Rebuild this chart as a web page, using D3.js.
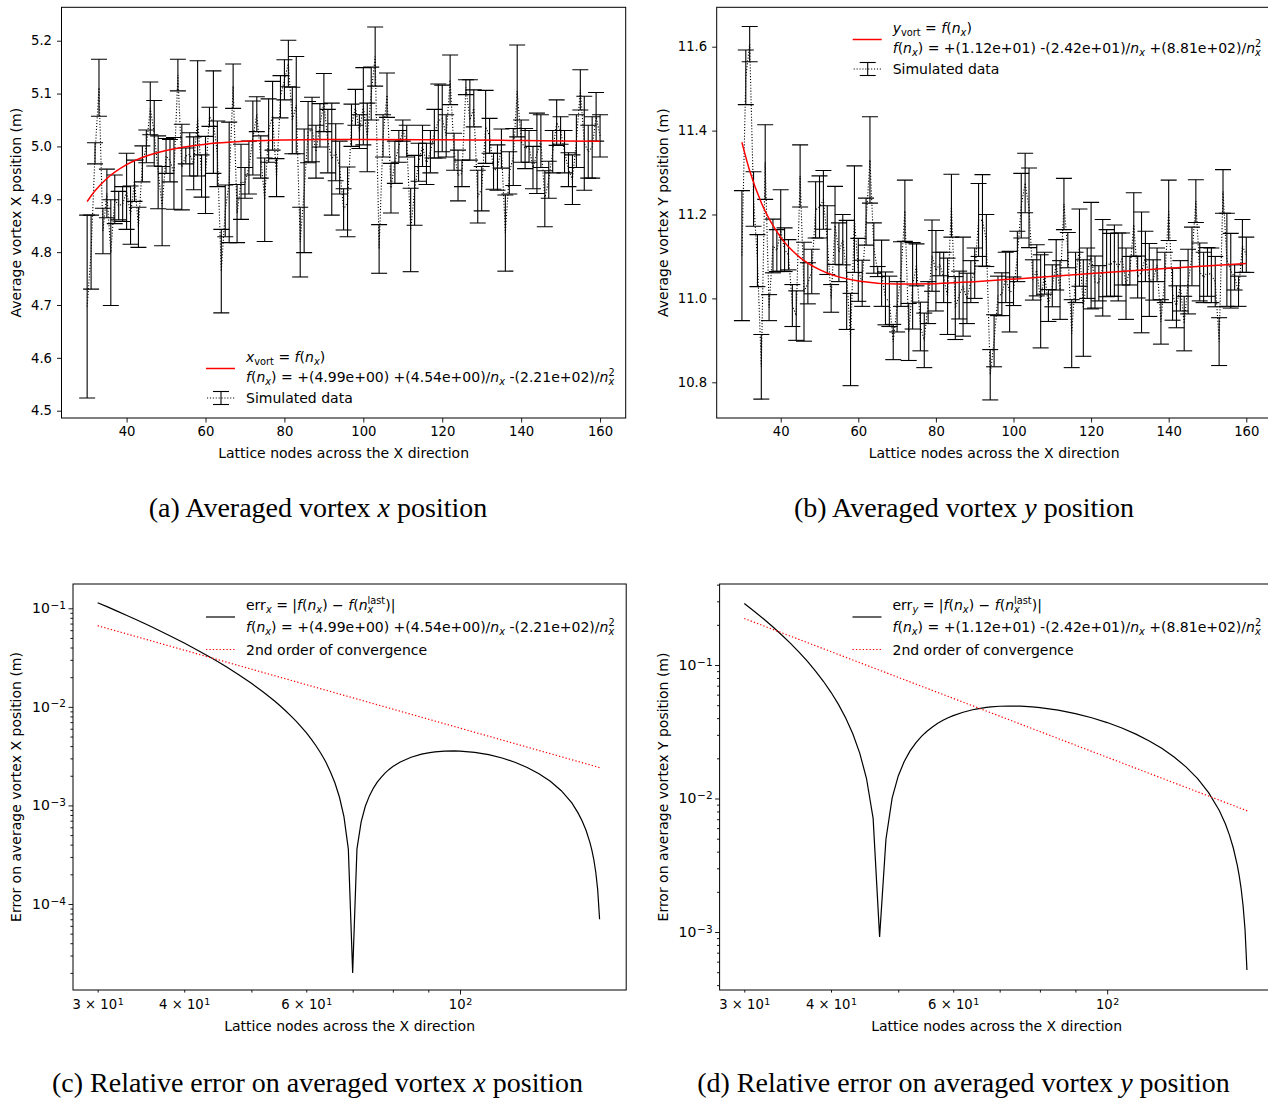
<!DOCTYPE html>
<html>
<head>
<meta charset="utf-8">
<script src="https://cdn.jsdelivr.net/npm/d3@7"></script>
<style>
body { margin: 0; background: #fff; }
svg { display: block; }
text { white-space: pre; }
</style>
</head>
<body>
<svg id="fig" width="1268" height="1098"></svg>
<script>
// lattice sizes (x categories of the top panels)
var latticeN = d3.range(30, 161);

// averaged vortex x position, centre and error half-width, n = 30..160
var xMean = [
  4.697, 4.800, 4.987, 5.111, 4.840, 4.911, 4.799, 4.900, 4.888, 4.891,
  4.915, 4.870, 4.935, 4.847, 4.967, 5.000, 5.072, 5.025, 4.951, 4.887,
  4.982, 4.973, 4.949, 5.135, 4.961, 4.982, 4.985, 4.968, 5.053, 4.944,
  4.946, 5.056, 5.046, 4.986, 4.764, 4.878, 4.932, 5.114, 4.873, 4.933,
  4.931, 4.960, 5.016, 5.061, 4.980, 4.899, 5.030, 5.058, 4.941, 5.094,
  5.126, 5.157, 5.049, 5.078, 4.819, 4.916, 5.027, 5.032, 4.990, 5.040,
  5.083, 5.010, 4.976, 4.989, 4.960, 4.881, 4.895, 5.040, 5.074, 5.028,
  5.076, 5.017, 5.100, 5.170, 4.806, 5.020, 5.097, 4.921, 4.970, 5.000,
  5.030, 5.010, 4.842, 4.917, 4.970, 5.001, 4.967, 4.990, 5.024, 5.048,
  5.053, 5.020, 5.126, 4.990, 4.945, 4.949, 5.112, 5.050, 5.072, 4.905,
  4.920, 5.037, 5.020, 4.953, 4.960, 4.996, 4.836, 4.950, 4.980, 5.105,
  5.010, 4.996, 5.000, 4.960, 4.987, 5.010, 4.901, 4.937, 4.990, 5.045,
  5.030, 4.990, 4.956, 4.937, 5.010, 5.107, 5.006, 4.990, 4.998, 5.056,
  5.020
];
var xErr = [
  0.173, 0.070, 0.020, 0.054, 0.043, 0.046, 0.100, 0.046, 0.027, 0.033,
  0.072, 0.055, 0.039, 0.038, 0.034, 0.031, 0.050, 0.062, 0.069, 0.075,
  0.033, 0.040, 0.068, 0.030, 0.081, 0.015, 0.041, 0.050, 0.109, 0.040,
  0.073, 0.018, 0.097, 0.062, 0.079, 0.049, 0.114, 0.042, 0.055, 0.071,
  0.029, 0.050, 0.070, 0.033, 0.040, 0.079, 0.060, 0.065, 0.036, 0.040,
  0.038, 0.044, 0.063, 0.092, 0.066, 0.117, 0.058, 0.061, 0.050, 0.041,
  0.055, 0.060, 0.106, 0.054, 0.050, 0.039, 0.066, 0.040, 0.034, 0.032,
  0.073, 0.065, 0.050, 0.056, 0.046, 0.040, 0.042, 0.047, 0.040, 0.030,
  0.020, 0.030, 0.079, 0.066, 0.036, 0.039, 0.039, 0.040, 0.046, 0.070,
  0.063, 0.040, 0.047, 0.035, 0.048, 0.025, 0.014, 0.076, 0.035, 0.050,
  0.042, 0.069, 0.033, 0.034, 0.043, 0.037, 0.072, 0.040, 0.054, 0.087,
  0.040, 0.038, 0.030, 0.040, 0.076, 0.050, 0.053, 0.035, 0.040, 0.043,
  0.026, 0.040, 0.032, 0.047, 0.050, 0.038, 0.089, 0.050, 0.058, 0.046,
  0.040
];

// averaged vortex y position
var yMean = [
  11.102, 11.527, 11.606, 11.237, 11.090, 10.837, 11.325, 10.978, 11.125, 11.114,
  11.162, 11.116, 11.104, 10.983, 10.959, 11.292, 11.016, 11.036, 11.064, 11.211,
  11.218, 11.235, 11.139, 11.000, 11.174, 11.110, 11.140, 11.056, 10.902, 11.189,
  11.068, 11.036, 11.183, 11.330, 11.120, 11.064, 11.060, 11.000, 10.993, 10.896,
  10.980, 11.058, 11.209, 10.920, 11.030, 11.080, 10.933, 10.900, 10.990, 11.102,
  11.066, 11.082, 11.050, 11.005, 11.221, 10.977, 11.008, 11.028, 11.000, 11.040,
  11.060, 11.187, 11.186, 11.138, 10.818, 10.899, 11.006, 11.010, 11.050, 11.016,
  11.017, 11.100, 11.221, 11.275, 11.216, 11.044, 11.067, 10.993, 11.060, 10.983,
  11.030, 11.080, 11.020, 11.225, 11.115, 10.916, 11.050, 11.121, 10.977, 11.060,
  11.102, 11.039, 11.036, 11.073, 11.084, 11.080, 11.090, 11.075, 11.094, 11.035,
  11.066, 11.176, 11.051, 11.062, 11.100, 11.044, 11.044, 11.080, 10.944, 11.050,
  11.210, 11.010, 10.980, 11.030, 10.940, 11.040, 11.100, 11.232, 11.063, 11.050,
  11.063, 11.055, 11.040, 10.897, 11.255, 11.092, 11.066, 11.050, 11.017, 11.125,
  11.104
];
var yErr = [
  0.155, 0.065, 0.042, 0.065, 0.062, 0.077, 0.089, 0.031, 0.064, 0.050,
  0.097, 0.052, 0.036, 0.050, 0.059, 0.074, 0.118, 0.049, 0.053, 0.067,
  0.074, 0.070, 0.082, 0.033, 0.093, 0.070, 0.060, 0.130, 0.110, 0.127,
  0.075, 0.055, 0.056, 0.103, 0.060, 0.012, 0.079, 0.063, 0.060, 0.042,
  0.060, 0.077, 0.073, 0.068, 0.103, 0.050, 0.058, 0.065, 0.050, 0.085,
  0.096, 0.028, 0.060, 0.091, 0.075, 0.075, 0.057, 0.118, 0.060, 0.050,
  0.060, 0.087, 0.109, 0.062, 0.060, 0.062, 0.047, 0.051, 0.060, 0.096,
  0.034, 0.060, 0.077, 0.071, 0.095, 0.048, 0.061, 0.111, 0.050, 0.038,
  0.050, 0.060, 0.070, 0.061, 0.042, 0.081, 0.060, 0.092, 0.115, 0.060,
  0.127, 0.062, 0.042, 0.115, 0.080, 0.075, 0.085, 0.081, 0.062, 0.085,
  0.034, 0.076, 0.050, 0.144, 0.060, 0.087, 0.048, 0.040, 0.053, 0.060,
  0.072, 0.062, 0.050, 0.060, 0.065, 0.077, 0.070, 0.051, 0.069, 0.060,
  0.058, 0.065, 0.060, 0.057, 0.052, 0.111, 0.089, 0.030, 0.036, 0.063,
  0.042
];

// fitted curves f(n_x), read at a few lattice sizes
var fitN = [30, 32, 35, 40, 45, 50, 60, 70, 80, 90, 100, 120, 140, 160];
var xFit = [4.8958, 4.9161, 4.9393, 4.9654, 4.9818, 4.9924, 5.0043, 5.0098, 5.0122, 5.0132, 5.0133, 5.0125, 5.0112, 5.0098];
var yFit = [11.3722, 11.3041, 11.2278, 11.1456, 11.0973, 11.0684, 11.0414, 11.0341, 11.0352, 11.0399, 11.0461, 11.0595, 11.0721, 11.0832];

// error against the last lattice size
var errNx = [30, 31, 32, 33, 34, 35, 36, 38, 40, 42, 44, 45, 46, 48, 50, 52, 53, 54, 55, 56, 57, 58, 59,
  60, 61, 62, 63, 64, 65, 66, 67, 68, 69, 70, 71, 72, 73, 74, 75, 76, 77, 78, 79, 80, 82, 85, 88, 90,
  92, 95, 98, 100, 105, 110, 115, 120, 125, 130, 135, 140, 145, 148, 150, 152, 154, 155, 156, 157, 158, 159];
var errX = [0.11395, 0.10327, 0.09369, 0.08511, 0.07740, 0.07044, 0.06416, 0.05332, 0.04437, 0.03694,
  0.03071, 0.02800, 0.02549, 0.02109, 0.01735, 0.01417, 0.01276, 0.01146, 0.01026, 0.00914, 0.00811,
  0.00716, 0.00628, 0.00547, 0.00471, 0.00401, 0.00336, 0.00277, 0.00220, 0.00169, 0.00121, 0.00077,
  0.00036, 0.00002, 0.00036, 0.00068, 0.00098, 0.00125, 0.00150, 0.00173, 0.00194, 0.00214, 0.00232,
  0.00248, 0.00276, 0.00308, 0.00331, 0.00342, 0.00350, 0.00356, 0.00357, 0.00356, 0.00345, 0.00327,
  0.00303, 0.00274, 0.00243, 0.00210, 0.00176, 0.00141, 0.00106, 0.00084, 0.00070, 0.00056, 0.00042,
  0.00035, 0.00028, 0.00021, 0.00014, 0.00007];
var errNy = [30, 31, 32, 33, 34, 35, 36, 37, 38, 39, 40, 41, 42, 43, 44, 45, 46, 47, 48, 49, 50, 51, 52,
  53, 54, 55, 56, 57, 58, 59, 60, 62, 64, 65, 67, 68, 70, 72, 75, 78, 80, 85, 90, 95, 100, 105, 110, 115,
  120, 125, 130, 135, 140, 145, 148, 150, 152, 154, 155, 156, 157, 158, 159];
var errY = [0.28906, 0.25294, 0.22094, 0.19250, 0.16718, 0.14459, 0.12440, 0.10632, 0.09011, 0.07555,
  0.06246, 0.05069, 0.04008, 0.03052, 0.02190, 0.01412, 0.00710, 0.00092, 0.00495, 0.01011, 0.01476,
  0.01896, 0.02274, 0.02613, 0.02919, 0.03192, 0.03438, 0.03657, 0.03851, 0.04025, 0.04178, 0.04430,
  0.04620, 0.04695, 0.04810, 0.04852, 0.04908, 0.04933, 0.04921, 0.04861, 0.04801, 0.04593, 0.04329,
  0.04028, 0.03706, 0.03373, 0.03035, 0.02698, 0.02365, 0.02038, 0.01719, 0.01408, 0.01107, 0.00816,
  0.00646, 0.00534, 0.00424, 0.00316, 0.00262, 0.00209, 0.00156, 0.00104, 0.00052];

// 2nd order of convergence reference lines
var convN = [30, 160];
var convX = [0.0666, 0.00239];
var convY = [0.2231, 0.0080];

var linTicksX = [40, 60, 80, 100, 120, 140, 160];
var ticksA = [4.5, 4.6, 4.7, 4.8, 4.9, 5.0, 5.1, 5.2];
var ticksB = [10.8, 11.0, 11.2, 11.4, 11.6];
var logLabelX = [30, 40, 60, 100];
var logMinorX = [30, 40, 50, 60, 70, 80, 90];
var logMajorX = [100];

var svg = d3.select("#fig");
var FS = 13.2;      // tick labels
var LS = 14;        // axis labels and legends
var font = "DejaVu Sans";

svg.append("rect").attr("width", 1268).attr("height", 1098).attr("fill", "#fff");

function styleAxis(g, size) {
  g.attr("font-family", font).attr("font-size", size || FS);
  g.select(".domain").remove();
  g.selectAll(".tick line").attr("stroke", "#000").attr("stroke-width", 0.9);
  g.selectAll(".tick text").attr("fill", "#000");
}

function mathText(g, x, y, segs, size) {
  var t = g.append("text").attr("x", x).attr("y", y)
      .attr("font-family", font).attr("font-size", size).attr("fill", "#000");
  var off = 0;
  segs.forEach(function(s) {
    var target = s.sub ? size * 0.24 : s.sup ? -size * 0.42 : 0;
    var ts = t.append("tspan").text(s.t).attr("dy", target - off);
    if (s.sub || s.sup) ts.attr("font-size", size * 0.7);
    if (s.it) ts.attr("font-style", "italic");
    if (s.dx) ts.attr("dx", s.dx);
    off = target;
  });
  return t;
}

function frame(g, box) {
  g.append("rect")
      .attr("x", box.left).attr("y", box.top)
      .attr("width", box.right - box.left).attr("height", box.bottom - box.top)
      .attr("fill", "none").attr("stroke", "#000").attr("stroke-width", 1);
}

function axisLabels(g, box, xl, yl) {
  g.append("text")
      .attr("x", (box.left + box.right) / 2).attr("y", box.xlabY)
      .attr("text-anchor", "middle").attr("font-family", font).attr("font-size", LS)
      .text(xl);
  g.append("text")
      .attr("transform", "translate(" + box.ylabX + "," + (box.top + box.bottom) / 2 + ") rotate(-90)")
      .attr("text-anchor", "middle").attr("font-family", font).attr("font-size", LS)
      .text(yl);
}

function caption(x, y, label, v, rest) {
  var t = svg.append("text").attr("x", x).attr("y", y)
      .attr("text-anchor", "middle").attr("font-family", "Liberation Serif")
      .attr("font-size", 28).attr("fill", "#000");
  t.append("tspan").text(label);
  t.append("tspan").attr("font-style", "italic").text(v);
  t.append("tspan").text(rest);
}

function fitLegendText(g, x, y, coeffs) {
  mathText(g, x, y, [
    { t: "f", it: 1 }, { t: "(" }, { t: "n", it: 1 }, { t: "x", it: 1, sub: 1 },
    { t: ") = +(" + coeffs[0] + ") " + coeffs[1] + "/" }, { t: "n", it: 1 }, { t: "x", it: 1, sub: 1 },
    { t: " " + coeffs[2] + "/" }, { t: "n", it: 1 }, { t: "x", it: 1, sub: 1 }, { t: "2", sup: 1, dx: -5.8 }
  ], LS);
}

// ---------- error bar panels ----------
function errorPanel(box, yDomain, yTicks, mean, err, fit, legendPos, varName, coeffs) {
  var g = svg.append("g");
  var x = d3.scaleLinear().domain([23.5, 166.5]).range([box.left, box.right]);
  var y = d3.scaleLinear().domain(yDomain).range([box.bottom, box.top]);

  var clip = "clip" + varName;
  g.append("clipPath").attr("id", clip).append("rect")
      .attr("x", box.left).attr("y", box.top)
      .attr("width", box.right - box.left).attr("height", box.bottom - box.top);

  var pts = latticeN.map(function(n, i) { return { n: n, m: mean[i], e: err[i] }; });
  var plot = g.append("g").attr("clip-path", "url(#" + clip + ")");

  plot.append("path")
      .datum(pts)
      .attr("fill", "none").attr("stroke", "#000").attr("stroke-width", 1.1)
      .attr("stroke-dasharray", "1.1,1.8")
      .attr("d", d3.line().x(function(d) { return x(d.n); }).y(function(d) { return y(d.m); }));

  var bars = plot.selectAll(".bar").data(pts).enter().append("g").attr("class", "bar")
      .attr("stroke", "#000").attr("stroke-width", 1.1);
  bars.append("line")
      .attr("x1", function(d) { return x(d.n); }).attr("x2", function(d) { return x(d.n); })
      .attr("y1", function(d) { return y(d.m - d.e); }).attr("y2", function(d) { return y(d.m + d.e); });
  [-1, 1].forEach(function(s) {
    bars.append("line")
        .attr("x1", function(d) { return x(d.n) - 8; }).attr("x2", function(d) { return x(d.n) + 8; })
        .attr("y1", function(d) { return y(d.m + s * d.e); }).attr("y2", function(d) { return y(d.m + s * d.e); });
  });

  plot.append("path")
      .datum(fitN.map(function(n, i) { return [n, fit[i]]; }))
      .attr("fill", "none").attr("stroke", "#ff0000").attr("stroke-width", 1.5)
      .attr("d", d3.line().curve(d3.curveMonotoneX)
        .x(function(d) { return x(d[0]); }).y(function(d) { return y(d[1]); }));

  frame(g, box);

  var gx = g.append("g").attr("transform", "translate(0," + box.bottom + ")")
      .call(d3.axisBottom(x).tickValues(linTicksX).tickSize(4.5).tickPadding(4.2).tickFormat(d3.format("d")));
  styleAxis(gx);
  var gy = g.append("g").attr("transform", "translate(" + box.left + ",0)")
      .call(d3.axisLeft(y).tickValues(yTicks).tickSize(4.5).tickPadding(5).tickFormat(d3.format(".1f")));
  styleAxis(gy);

  // legend
  var lx = legendPos[0], ly = legendPos[1];
  g.append("line").attr("x1", lx).attr("x2", lx + 29).attr("y1", ly + 6.5).attr("y2", ly + 6.5)
      .attr("stroke", "#ff0000").attr("stroke-width", 1.5);
  mathText(g, lx + 40, ly, [
    { t: varName, it: 1 }, { t: "vort", sub: 1 }, { t: " = " }, { t: "f", it: 1 }, { t: "(" },
    { t: "n", it: 1 }, { t: "x", it: 1, sub: 1 }, { t: ")" }
  ], LS);
  fitLegendText(g, lx + 40, ly + 20, coeffs);
  var ey = ly + 41;
  g.append("line").attr("x1", lx + 1).attr("x2", lx + 29).attr("y1", ey - 5).attr("y2", ey - 5)
      .attr("stroke", "#000").attr("stroke-width", 1.1).attr("stroke-dasharray", "1.1,1.8");
  g.append("line").attr("x1", lx + 15).attr("x2", lx + 15).attr("y1", ey - 11.5).attr("y2", ey + 1.5)
      .attr("stroke", "#000").attr("stroke-width", 1.1);
  [ey - 11.5, ey + 1.5].forEach(function(v) {
    g.append("line").attr("x1", lx + 7).attr("x2", lx + 23).attr("y1", v).attr("y2", v)
        .attr("stroke", "#000").attr("stroke-width", 1.1);
  });
  g.append("text").attr("x", lx + 40).attr("y", ey).attr("font-family", font).attr("font-size", LS)
      .text("Simulated data");

  axisLabels(g, box, "Lattice nodes across the X direction",
    "Average vortex " + varName.toUpperCase() + " position (m)");
}

// ---------- log error panels ----------
function supLabel(sel, fn, supScale) {
  sel.selectAll(".tick text").each(function(d) {
    var t = d3.select(this);
    var parts = fn(d);
    t.text(null);
    if (!parts) return;
    t.append("tspan").text(parts[0]);
    t.append("tspan").attr("dy", "-0.42em").attr("dx", 0.6)
        .attr("font-size", FS * supScale).text(parts[1]);
  });
}

function logPanel(box, yDomain, nArr, eArr, conv, legendPos, varName, coeffs) {
  var g = svg.append("g");
  var x = d3.scaleLog().domain([27.64, 173.7]).range([box.left, box.right]);
  var y = d3.scaleLog().domain(yDomain).range([box.bottom, box.top]);

  var clip = "clipE" + varName;
  g.append("clipPath").attr("id", clip).append("rect")
      .attr("x", box.left).attr("y", box.top)
      .attr("width", box.right - box.left).attr("height", box.bottom - box.top);
  var plot = g.append("g").attr("clip-path", "url(#" + clip + ")");

  plot.append("path")
      .datum(nArr.map(function(n, i) { return [n, eArr[i]]; }))
      .attr("fill", "none").attr("stroke", "#000").attr("stroke-width", 1.2)
      .attr("d", d3.line().x(function(d) { return x(d[0]); }).y(function(d) { return y(d[1]); }));
  plot.append("path")
      .datum(convN.map(function(n, i) { return [n, conv[i]]; }))
      .attr("fill", "none").attr("stroke", "#ff0000").attr("stroke-width", 1.2)
      .attr("stroke-dasharray", "1.3,2.1")
      .attr("d", d3.line().x(function(d) { return x(d[0]); }).y(function(d) { return y(d[1]); }));

  frame(g, box);

  // x axis: minor ticks + major tick at 100, labels on a subset
  var gxm = g.append("g").attr("transform", "translate(0," + box.bottom + ")")
      .call(d3.axisBottom(x).tickValues(logMinorX).tickSize(2.6).tickFormat(""));
  styleAxis(gxm);
  var gxM = g.append("g").attr("transform", "translate(0," + box.bottom + ")")
      .call(d3.axisBottom(x).tickValues(logMajorX).tickSize(4.5).tickFormat(""));
  styleAxis(gxM);
  var gxl = g.append("g").attr("transform", "translate(0," + box.bottom + ")")
      .call(d3.axisBottom(x).tickValues(logLabelX).tickSize(0).tickPadding(10));
  styleAxis(gxl);
  gxl.selectAll(".tick line").remove();
  supLabel(gxl, function(d) {
    var e = Math.floor(Math.log10(d) + 1e-9), m = Math.round(d / Math.pow(10, e));
    return [m === 1 ? "10" : m + " \u00d7 10", String(e)];
  }, 0.72);

  // y axis: decades + minor ticks
  var lo = Math.floor(Math.log10(yDomain[0])), hi = Math.ceil(Math.log10(yDomain[1]));
  var majors = [], minors = [];
  for (var e = lo; e <= hi; e++) {
    var p = Math.pow(10, e);
    if (p >= yDomain[0] && p <= yDomain[1]) majors.push(p);
    for (var k = 2; k <= 9; k++) {
      if (k * p >= yDomain[0] && k * p <= yDomain[1]) minors.push(k * p);
    }
  }
  var gym = g.append("g").attr("transform", "translate(" + box.left + ",0)")
      .call(d3.axisLeft(y).tickValues(minors).tickSize(2.6).tickFormat(""));
  styleAxis(gym);
  var gyM = g.append("g").attr("transform", "translate(" + box.left + ",0)")
      .call(d3.axisLeft(y).tickValues(majors).tickSize(4.5).tickPadding(2.5));
  styleAxis(gyM, 14);
  supLabel(gyM, function(d) {
    var e = Math.round(Math.log10(d));
    return ["10", (e < 0 ? "\u2212" : "") + Math.abs(e)];
  }, 0.8);

  // legend
  var lx = legendPos[0], ly = legendPos[1];
  g.append("line").attr("x1", lx).attr("x2", lx + 29).attr("y1", ly + 7).attr("y2", ly + 7)
      .attr("stroke", "#000").attr("stroke-width", 1.2);
  mathText(g, lx + 40, ly, [
    { t: "err" }, { t: varName, it: 1, sub: 1 }, { t: " = |" }, { t: "f", it: 1 }, { t: "(" },
    { t: "n", it: 1 }, { t: "x", it: 1, sub: 1 }, { t: ") \u2212 " }, { t: "f", it: 1 }, { t: "(" },
    { t: "n", it: 1 }, { t: "x", it: 1, sub: 1 }, { t: "last", sup: 1, dx: -5.8 }, { t: ")|" }
  ], LS);
  fitLegendText(g, lx + 40, ly + 21.7, coeffs);
  g.append("line").attr("x1", lx).attr("x2", lx + 29).attr("y1", ly + 39.5).attr("y2", ly + 39.5)
      .attr("stroke", "#ff0000").attr("stroke-width", 1.2).attr("stroke-dasharray", "1.3,2.1");
  g.append("text").attr("x", lx + 40).attr("y", ly + 44.5).attr("font-family", font).attr("font-size", LS)
      .text("2nd order of convergence");

  axisLabels(g, box, "Lattice nodes across the X direction",
    "Error on average vortex " + varName.toUpperCase() + " position (m)");
}

var boxA = { left: 61.5, right: 625.7, top: 7.3, bottom: 418, xlabY: 458, ylabX: 21 };
var boxB = { left: 716.7, right: 1271.5, top: 7.3, bottom: 418, xlabY: 458, ylabX: 668 };
var boxC = { left: 73, right: 626.2, top: 584, bottom: 990, xlabY: 1031, ylabX: 21 };
var boxD = { left: 719.6, right: 1273.6, top: 584, bottom: 990, xlabY: 1031, ylabX: 668 };

errorPanel(boxA, [4.4862, 5.2632], ticksA, xMean, xErr, xFit, [206, 362], "x",
  ["4.99e+00", "+(4.54e+00)", "-(2.21e+02)"]);
errorPanel(boxB, [10.7149, 11.6939], ticksB, yMean, yErr, yFit, [852.7, 33], "y",
  ["1.12e+01", "-(2.42e+01)", "+(8.81e+02)"]);
logPanel(boxC, [1.341e-5, 0.1764], errNx, errX, convX, [206, 610], "x",
  ["4.99e+00", "+(4.54e+00)", "-(2.21e+02)"]);
logPanel(boxD, [3.678e-4, 0.4044], errNy, errY, convY, [852.5, 610], "y",
  ["1.12e+01", "-(2.42e+01)", "+(8.81e+02)"]);

caption(318, 517, "(a) Averaged vortex ", "x", " position");
caption(964, 517, "(b) Averaged vortex ", "y", " position");
caption(317.5, 1092, "(c) Relative error on averaged vortex ", "x", " position");
caption(963.5, 1092, "(d) Relative error on averaged vortex ", "y", " position");
</script>
</body>
</html>
